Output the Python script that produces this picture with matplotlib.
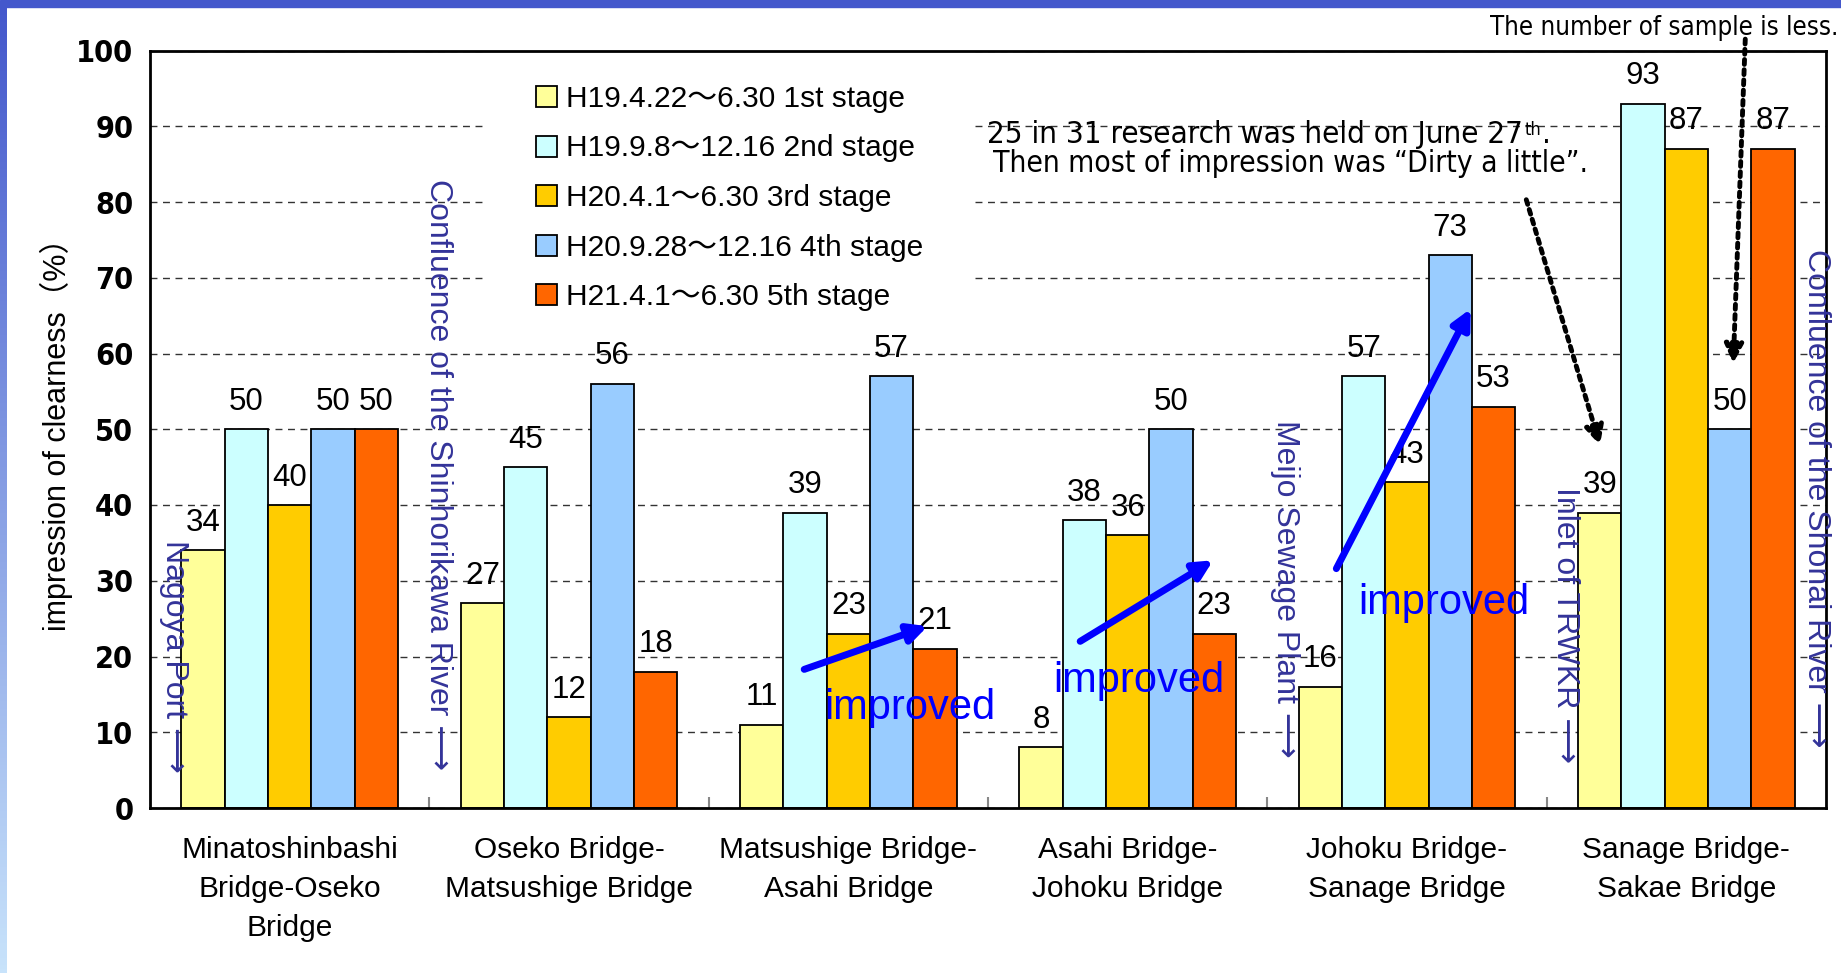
import numpy as np
import matplotlib.pyplot as plt
from matplotlib.patches import Rectangle
from matplotlib.colors import LinearSegmentedColormap

SECTIONS = ["Minatoshinbashi\nBridge-Oseko\nBridge",
            "Oseko Bridge-\nMatsushige Bridge",
            "Matsushige Bridge-\nAsahi Bridge",
            "Asahi Bridge-\nJohoku Bridge",
            "Johoku Bridge-\nSanage Bridge",
            "Sanage Bridge-\nSakae Bridge"]
STAGES = ["H19.4.22～6.30 1st stage",
          "H19.9.8～12.16 2nd stage",
          "H20.4.1～6.30 3rd stage",
          "H20.9.28～12.16 4th stage",
          "H21.4.1～6.30 5th stage"]
STAGE1 = [34, 27, 11, 8, 16, 39]
STAGE2 = [50, 45, 39, 38, 57, 93]
STAGE3 = [40, 12, 23, 36, 43, 87]
STAGE4 = [50, 56, 57, 50, 73, 50]
STAGE5 = [50, 18, 21, 23, 53, 87]
COLORS = ["#FFFF99", "#CCFFFF", "#FFCC00", "#99CCFF", "#FF6600"]

# places along the river (rotated blue labels): text, x, top y
PLACES = [("Nagoya Port ⟶", -0.414, 35.4),
          ("Confluence of the Shinhorikawa River ⟶", 0.531, 83.1),
          ("Meijo Sewage Plant ⟶", 3.565, 51.2),
          ("Inlet of TRWKR ⟶", 4.566, 42.4),
          ("Confluence of the Shonai River ⟶", 5.465, 73.8)]

NARROW = ["DejaVu Sans Condensed", "DejaVu Sans"]
SANS = ["Liberation Sans", "Noto Sans CJK JP", "DejaVu Sans"]

W, H = 1841, 973
fig = plt.figure(figsize=(W / 100, H / 100), dpi=100)
fig.patch.set_facecolor("white")

# slide border
fig.patches.append(Rectangle((0, 1 - 7 / H), 1, 7 / H, transform=fig.transFigure,
                             color="#4458CC", zorder=0))
bax = fig.add_axes([0, 0, 7 / W, 1 - 7 / H])
grad = np.linspace(0, 1, 256).reshape(-1, 1)
bcmap = LinearSegmentedColormap.from_list("edge", ["#4458CC", "#C8E3FB"])
bax.imshow(grad, aspect="auto", cmap=bcmap)
bax.axis("off")

ax = fig.add_axes([150 / W, 1 - 808 / H, 1676 / W, 757.5 / H])
series = [STAGE1, STAGE2, STAGE3, STAGE4, STAGE5]
x = np.arange(len(SECTIONS))
bw = 0.155
for i, vals in enumerate(series):
    bars = ax.bar(x + (i - 2) * bw, vals, bw, color=COLORS[i], edgecolor="black",
                  linewidth=1.3, label=STAGES[i], zorder=2)
    ax.bar_label(bars, padding=9, fontsize=22.5, family=SANS)

ax.set_xlim(-0.5, 5.5)
ax.set_ylim(0, 100)
ax.set_yticks(range(0, 101, 10))
ax.set_yticklabels([str(v) for v in range(0, 101, 10)], fontsize=22,
                   fontweight="bold", family=NARROW, fontstretch="condensed")
ax.tick_params(axis="y", length=0, pad=12)
ax.set_xticks(x)
ax.set_xticklabels(SECTIONS, fontsize=21.5, family=SANS, linespacing=1.5)
ax.tick_params(axis="x", which="major", length=0, pad=20)
ax.set_xticks(np.arange(0.5, 5, 1), minor=True)
ax.tick_params(axis="x", which="minor", direction="in", length=8, width=1.5,
               color="#888888")
ax.yaxis.grid(True, linestyle=(0, (5, 4)), color="#333333", linewidth=1)
ax.set_axisbelow(True)
for s in ax.spines.values():
    s.set_linewidth(2)

ax.set_ylabel("impression of clearness（%）", fontsize=22, family=SANS)
ax.yaxis.set_label_coords(-0.046, 0.503)

# white area behind the legend
ax.add_patch(Rectangle((0.199, 0.624), 0.292, 0.376, transform=ax.transAxes,
                       facecolor="white", edgecolor="none", zorder=1))
leg = ax.legend(loc="upper left", bbox_to_anchor=(536 / W, 1 - 85 / H),
                bbox_transform=fig.transFigure, frameon=False, borderpad=0,
                borderaxespad=0, handlelength=0.7, handleheight=0.7,
                handletextpad=0.3, labelspacing=0.72,
                prop={"family": SANS, "size": 21.5})

for txt, px, py in PLACES:
    ax.text(px, py, txt, rotation=-90, ha="center", va="top", fontsize=23,
            color="#333399", family=SANS, zorder=5)

# improvement arrows
arrows = [((1.842, 18.3), (2.284, 24.0), (2.22, 13.2)),
          ((2.83, 22.0), (3.306, 32.7), (3.04, 16.7)),
          ((3.747, 31.6), (4.228, 65.9), (4.13, 27.1))]
for start, end, lab in arrows:
    ax.annotate("", xy=end, xytext=start,
                arrowprops=dict(arrowstyle="-|>", color="#0000FF", lw=5,
                                mutation_scale=28, shrinkA=0, shrinkB=0), zorder=6)
    ax.text(lab[0], lab[1], "improved", color="#0000FF", fontsize=30,
            ha="center", va="center", family=SANS, zorder=6)

# dotted notes
dotted = dict(arrowstyle="-|>", color="black", lw=3.5, linestyle=(0, (1, 1.1)),
              mutation_scale=28, shrinkA=0, shrinkB=0)
ax.annotate("", xy=(4.691, 47.9), xytext=(4.427, 80.3), arrowprops=dotted,
            zorder=6)
ax.annotate("", xy=(5.168, 58.7), xytext=(5.211, 101.5), annotation_clip=False,
            arrowprops=dotted, zorder=6)

t1 = fig.text(987 / W, 1 - 143 / H, "25 in 31 research was held on June 27",
              fontsize=22.5, family=NARROW, fontstretch="condensed",
              va="baseline", ha="left")
t2 = ax.annotate("th", xy=(1, 1), xycoords=t1, xytext=(1, -1),
                 textcoords="offset points", fontsize=13, family=NARROW,
                 fontstretch="condensed", va="top", ha="left")
ax.annotate(".", xy=(1, 0), xycoords=t1, xytext=(14, 0),
            textcoords="offset points", fontsize=22.5, family=NARROW,
            fontstretch="condensed", va="bottom", ha="left")
fig.text(993 / W, 1 - 172 / H, "Then most of impression was “Dirty a little”.",
         fontsize=21.5, family=NARROW, fontstretch="condensed",
         va="baseline", ha="left")
fig.text(1838 / W, 1 - 28 / H, "The number of sample is less.", fontsize=18.5,
         family=NARROW, fontstretch="condensed", va="center", ha="right")

fig.savefig("out.png", dpi=100)
